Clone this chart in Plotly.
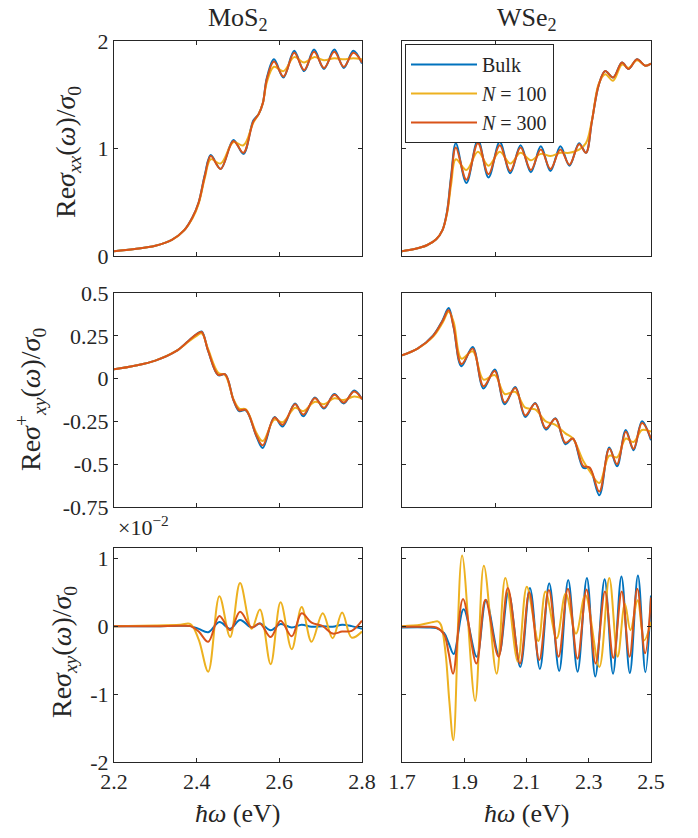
import plotly.graph_objects as go

# ---------------- data ----------------
# Top-left: MoS2, Re sigma_xx / sigma0
x_mos_xx = [2.2, 2.25, 2.3, 2.34, 2.37, 2.39, 2.405, 2.42, 2.434, 2.458, 2.489, 2.513,
            2.537, 2.55, 2.56, 2.57, 2.587, 2.61, 2.636, 2.66, 2.684, 2.708, 2.733,
            2.756, 2.779, 2.8]
mos_xx_bulk = [0.045, 0.065, 0.095, 0.15, 0.24, 0.36, 0.50, 0.76, 0.94, 0.81, 1.08, 0.95,
               1.26, 1.32, 1.42, 1.66, 1.83, 1.66, 1.91, 1.72, 1.92, 1.74, 1.92,
               1.75, 1.91, 1.79]
mos_xx_n100 = [0.045, 0.065, 0.095, 0.15, 0.24, 0.35, 0.49, 0.73, 0.90, 0.86, 1.06, 1.03,
               1.24, 1.32, 1.42, 1.62, 1.76, 1.72, 1.85, 1.80, 1.85, 1.82, 1.84,
               1.83, 1.84, 1.83]
mos_xx_n300 = [0.045, 0.065, 0.095, 0.15, 0.24, 0.36, 0.50, 0.75, 0.93, 0.81, 1.07, 0.96,
               1.25, 1.32, 1.42, 1.65, 1.81, 1.67, 1.89, 1.73, 1.90, 1.75, 1.90,
               1.76, 1.89, 1.80]

# Top-right: WSe2, Re sigma_xx / sigma0
x_wse_xx = [1.7, 1.74, 1.78, 1.81, 1.83, 1.845, 1.858, 1.873, 1.907, 1.944, 1.978, 2.014,
            2.048, 2.081, 2.114, 2.146, 2.177, 2.209, 2.238, 2.269, 2.291, 2.31, 2.332,
            2.353, 2.378, 2.407, 2.428, 2.455, 2.482, 2.5]
wse_xx_bulk = [0.045, 0.065, 0.10, 0.155, 0.24, 0.42, 0.75, 1.05, 0.68, 1.08, 0.73, 1.06,
               0.77, 1.03, 0.78, 1.02, 0.79, 1.02, 0.84, 1.05, 0.96, 1.25, 1.59,
               1.72, 1.66, 1.80, 1.74, 1.83, 1.77, 1.79]
wse_xx_n100 = [0.045, 0.065, 0.10, 0.155, 0.24, 0.40, 0.67, 0.90, 0.80, 0.97, 0.84, 0.97,
               0.86, 0.96, 0.89, 0.95, 0.93, 0.96, 0.96, 0.99, 1.05, 1.26, 1.60,
               1.69, 1.63, 1.78, 1.75, 1.82, 1.77, 1.79]
wse_xx_n300 = [0.045, 0.065, 0.10, 0.155, 0.24, 0.41, 0.73, 1.01, 0.71, 1.05, 0.76, 1.03,
               0.79, 1.01, 0.80, 0.99, 0.81, 0.99, 0.85, 1.04, 0.96, 1.25, 1.59,
               1.72, 1.66, 1.80, 1.74, 1.83, 1.77, 1.79]

# Middle-left: MoS2, Re sigma+_xy / sigma0
x_mos_p = [2.2, 2.25, 2.3, 2.35, 2.38, 2.40, 2.412, 2.428, 2.452, 2.469, 2.489, 2.503,
           2.519, 2.545, 2.56, 2.588, 2.608, 2.638, 2.658, 2.686, 2.708, 2.733, 2.756,
           2.781, 2.8]
mos_p_bulk = [0.054, 0.075, 0.105, 0.16, 0.22, 0.26, 0.275, 0.16, 0.02, 0.025, -0.125, -0.19,
              -0.185, -0.34, -0.405, -0.225, -0.28, -0.145, -0.22, -0.11, -0.175, -0.09, -0.145,
              -0.07, -0.12]
mos_p_n100 = [0.054, 0.075, 0.105, 0.16, 0.215, 0.25, 0.265, 0.17, 0.035, 0.02, -0.12, -0.175,
              -0.18, -0.32, -0.365, -0.24, -0.255, -0.17, -0.19, -0.135, -0.15, -0.115, -0.125,
              -0.105, -0.115]
mos_p_n300 = [0.054, 0.075, 0.105, 0.16, 0.22, 0.26, 0.272, 0.16, 0.022, 0.025, -0.125, -0.185,
              -0.183, -0.335, -0.39, -0.228, -0.27, -0.15, -0.21, -0.115, -0.17, -0.095, -0.14,
              -0.075, -0.12]

# Middle-right: WSe2, Re sigma+_xy / sigma0
x_wse_p = [1.7, 1.75, 1.8, 1.83, 1.85, 1.866, 1.891, 1.927, 1.962, 1.998, 2.03, 2.064,
           2.096, 2.128, 2.162, 2.193, 2.225, 2.249, 2.282, 2.303, 2.334, 2.366, 2.391,
           2.419, 2.444, 2.471, 2.5]
wse_p_bulk = [0.136, 0.175, 0.253, 0.34, 0.412, 0.30, 0.072, 0.185, -0.058, 0.053, -0.15, -0.049,
              -0.224, -0.142, -0.298, -0.232, -0.383, -0.35, -0.52, -0.525, -0.681, -0.403, -0.512,
              -0.30, -0.418, -0.249, -0.36]
wse_p_n100 = [0.136, 0.175, 0.245, 0.325, 0.39, 0.33, 0.117, 0.16, -0.006, 0.02, -0.09, -0.078,
              -0.17, -0.18, -0.25, -0.27, -0.32, -0.35, -0.48, -0.54, -0.61, -0.45, -0.46,
              -0.35, -0.37, -0.30, -0.31]
wse_p_n300 = [0.136, 0.175, 0.25, 0.335, 0.40, 0.30, 0.085, 0.175, -0.045, 0.045, -0.14, -0.055,
              -0.215, -0.145, -0.29, -0.235, -0.375, -0.35, -0.51, -0.52, -0.66, -0.41, -0.50,
              -0.31, -0.41, -0.26, -0.35]

# Bottom-left: MoS2, Re sigma_xy / sigma0  (units of 1e-2)
x_mos_h = [2.2, 2.3, 2.36, 2.385, 2.405, 2.428, 2.455, 2.481, 2.505, 2.533, 2.553, 2.579,
           2.603, 2.63, 2.654, 2.678, 2.705, 2.729, 2.752, 2.775, 2.8]
mos_h_bulk = [0.0, 0.0, 0.005, 0.0, -0.04, -0.09, 0.06, -0.04, 0.09, -0.02, 0.04, -0.06,
              0.03, -0.02, 0.02, -0.01, 0.0, -0.01, 0.02, 0.0, -0.04]
mos_h_n100 = [0.0, 0.01, 0.02, 0.03, -0.2, -0.67, 0.44, -0.16, 0.635, -0.04, 0.245, -0.56,
              0.35, -0.34, 0.28, -0.23, 0.19, -0.18, 0.20, -0.17, -0.08]
mos_h_n300 = [0.0, 0.0, 0.005, 0.0, -0.08, -0.23, 0.15, -0.06, 0.21, -0.02, 0.04, -0.16,
              0.08, -0.15, 0.19, 0.05, 0.0, -0.11, -0.08, -0.07, 0.08]

# Bottom-right: WSe2, Re sigma_xy / sigma0  (units of 1e-2)
x_wse_h_bulk = [1.7, 1.78, 1.81, 1.835, 1.85, 1.866, 1.898, 1.94, 1.97, 2.011, 2.042, 2.08,
                2.111, 2.143, 2.173, 2.205, 2.234, 2.264, 2.294, 2.321, 2.351, 2.378, 2.405,
                2.432, 2.458, 2.482, 2.5]
wse_h_bulk = [-0.02, -0.02, -0.03, -0.1, -0.25, -0.41, 0.25, -0.45, 0.38, -0.42, 0.50, -0.60,
              0.56, -0.63, 0.63, -0.66, 0.68, -0.67, 0.71, -0.74, 0.69, -0.70, 0.73,
              -0.69, 0.745, -0.68, 0.45]
x_wse_h_n100 = [1.7, 1.76, 1.8, 1.815, 1.825, 1.84, 1.852, 1.865, 1.893, 1.935, 1.963, 2.004,
                2.032, 2.072, 2.101, 2.138, 2.161, 2.197, 2.226, 2.259, 2.289, 2.334, 2.366,
                2.393, 2.416, 2.434, 2.457, 2.478, 2.5]
wse_h_n100 = [0.0, 0.02, 0.06, 0.07, 0.02, -0.40, -1.1, -1.68, 1.04, -1.10, 0.89, -0.70,
              0.71, -0.52, 0.58, -0.22, 0.51, -0.18, 0.48, -0.11, 0.46, -0.60, 0.71,
              -0.45, 0.33, -0.06, 0.38, -0.21, 0.06]
x_wse_h_n300 = [1.7, 1.78, 1.81, 1.835, 1.85, 1.864, 1.896, 1.939, 1.968, 2.01, 2.04, 2.079,
                2.109, 2.141, 2.172, 2.203, 2.233, 2.264, 2.293, 2.322, 2.352, 2.379, 2.406,
                2.431, 2.456, 2.481, 2.5]
wse_h_n300 = [-0.01, -0.01, -0.02, -0.12, -0.4, -0.70, 0.40, -0.55, 0.39, -0.45, 0.56, -0.55,
              0.50, -0.50, 0.53, -0.45, 0.55, -0.48, 0.54, -0.55, 0.51, -0.47, 0.51,
              -0.45, 0.55, -0.40, 0.42]

series_names = ["Bulk", "<i>N</i> = 100", "<i>N</i> = 300"]
colors = ["#0072BD", "#EDB120", "#D95319"]

left_ticks = [2.2, 2.4, 2.6, 2.8]
right_ticks_bottom = [1.7, 1.9, 2.1, 2.3, 2.5]
right_ticks_top = [1.5, 2.0, 2.5]
ticks_xx = [0, 1, 2]
ticks_p = [-0.75, -0.5, -0.25, 0, 0.25, 0.5]
ticks_p_text = ["-0.75", "-0.5", "-0.25", "0", "0.25", "0.5"]
ticks_h = [-2, -1, 0, 1]

# ---------------- figure ----------------
FONT = "Liberation Serif, Times New Roman, DejaVu Serif, serif"
AX = "#262626"

# page body margin is removed (post_script below), so the figure fills the window
W, H = 698, 838


def px_x(x):
    return x / W


def px_y(y):
    return 1 - y / H


fig = go.Figure()

panels = [
    ("", [(x_mos_xx, mos_xx_bulk), (x_mos_xx, mos_xx_n100), (x_mos_xx, mos_xx_n300)]),
    ("2", [(x_wse_xx, wse_xx_bulk), (x_wse_xx, wse_xx_n100), (x_wse_xx, wse_xx_n300)]),
    ("3", [(x_mos_p, mos_p_bulk), (x_mos_p, mos_p_n100), (x_mos_p, mos_p_n300)]),
    ("4", [(x_wse_p, wse_p_bulk), (x_wse_p, wse_p_n100), (x_wse_p, wse_p_n300)]),
    ("5", [(x_mos_h, mos_h_bulk), (x_mos_h, mos_h_n100), (x_mos_h, mos_h_n300)]),
    ("6", [(x_wse_h_bulk, wse_h_bulk), (x_wse_h_n100, wse_h_n100), (x_wse_h_n300, wse_h_n300)]),
]

for suffix, data in panels:
    for k, (xs, ys) in enumerate(data):
        fig.add_trace(go.Scatter(
            x=xs, y=ys, mode="lines",
            line=dict(color=colors[k], width=2, shape="spline", smoothing=1.0),
            name=series_names[k],
            showlegend=(suffix == "2"),
            xaxis="x" + suffix, yaxis="y" + suffix,
        ))

xl = [px_x(114), px_x(362)]
xr = [px_x(402), px_x(651)]
yt = [px_y(256), px_y(41)]
ym = [px_y(507), px_y(293)]
yb = [px_y(762), px_y(548)]

common = dict(showline=True, linecolor=AX, linewidth=1, mirror="ticks",
              ticks="inside", ticklen=4, tickwidth=1, tickcolor=AX,
              showgrid=False, zeroline=False, automargin=False,
              tickfont=dict(family=FONT, size=22, color=AX))


def xax(domain, anchor, rng, tickvals, labels):
    d = dict(common)
    d.update(domain=domain, anchor=anchor, range=rng, tickvals=tickvals,
             showticklabels=labels, ticktext=[f"{v:g}" for v in tickvals])
    return d


def yax(domain, anchor, rng, tickvals, labels, ticktext=None):
    d = dict(common)
    d.update(domain=domain, anchor=anchor, range=rng, tickvals=tickvals,
             showticklabels=labels,
             ticktext=ticktext if ticktext else [f"{v:g}" for v in tickvals])
    return d


fig.update_layout(
    template="none",
    xaxis=xax(xl, "y", [2.2, 2.8], left_ticks, False),
    yaxis=yax(yt, "x", [0, 2], ticks_xx, True),
    xaxis2=xax(xr, "y2", [1.7, 2.5], right_ticks_top, False),
    yaxis2=yax(yt, "x2", [0, 2], ticks_xx, False),
    xaxis3=xax(xl, "y3", [2.2, 2.8], left_ticks, False),
    yaxis3=yax(ym, "x3", [-0.75, 0.5], ticks_p, True, ticks_p_text),
    xaxis4=xax(xr, "y4", [1.7, 2.5], right_ticks_top, False),
    yaxis4=yax(ym, "x4", [-0.75, 0.5], ticks_p, False, ticks_p_text),
    xaxis5=xax(xl, "y5", [2.2, 2.8], left_ticks, True),
    yaxis5=yax(yb, "x5", [-2, 1.15], ticks_h, True),
    xaxis6=xax(xr, "y6", [1.7, 2.5], right_ticks_bottom, True),
    yaxis6=yax(yb, "x6", [-2, 1.15], ticks_h, False),
)

ann_font = dict(family=FONT, size=26, color=AX)
lab_font = dict(family=FONT, size=28, color=AX)
annotations = [
    dict(text="MoS<sub>2</sub>", x=(xl[0] + xl[1]) / 2, y=px_y(19), font=ann_font),
    dict(text="WSe<sub>2</sub>", x=(xr[0] + xr[1]) / 2, y=px_y(19), font=ann_font),
    dict(text="<i>ħω</i> (eV)", x=(xl[0] + xl[1]) / 2, y=px_y(813), font=ann_font),
    dict(text="<i>ħω</i> (eV)", x=(xr[0] + xr[1]) / 2, y=px_y(813), font=ann_font),
    dict(text="Re<i>σ</i><sub><i>xx</i></sub>(<i>ω</i>)/<i>σ</i><sub>0</sub>",
         x=px_x(67), y=px_y(152), textangle=-90, font=lab_font),
    dict(text="Re<i>σ</i><sup>+</sup><sub><i>xy</i></sub>(<i>ω</i>)/<i>σ</i><sub>0</sub>",
         x=px_x(31), y=px_y(400), textangle=-90, font=lab_font),
    dict(text="Re<i>σ</i><sub><i>xy</i></sub>(<i>ω</i>)/<i>σ</i><sub>0</sub>",
         x=px_x(63), y=px_y(652), textangle=-90, font=lab_font),
]
for a in annotations:
    a.update(xref="paper", yref="paper", showarrow=False,
             xanchor="center", yanchor="middle")
annotations.append(dict(text="×10<sup>−2</sup>", x=px_x(116), y=px_y(526),
                        xref="paper", yref="paper", showarrow=False,
                        xanchor="left", yanchor="middle",
                        font=dict(family=FONT, size=22, color=AX)))

fig.update_layout(
    annotations=annotations,
    width=W, height=H,
    margin=dict(l=0, r=0, t=0, b=0, pad=0, autoexpand=False),
    paper_bgcolor="white", plot_bgcolor="white",
    showlegend=True,
    hovermode=False,
    legend=dict(x=px_x(405), y=px_y(44), xanchor="left", yanchor="top",
                bgcolor="white", bordercolor=AX, borderwidth=1,
                font=dict(family=FONT, size=20, color=AX),
                tracegroupgap=0, itemwidth=66),
)

fig.write_html("out.html",
               config={"displayModeBar": False, "staticPlot": True},
               post_script="document.body.style.margin='0px';"
                           "document.body.style.overflow='hidden';")
